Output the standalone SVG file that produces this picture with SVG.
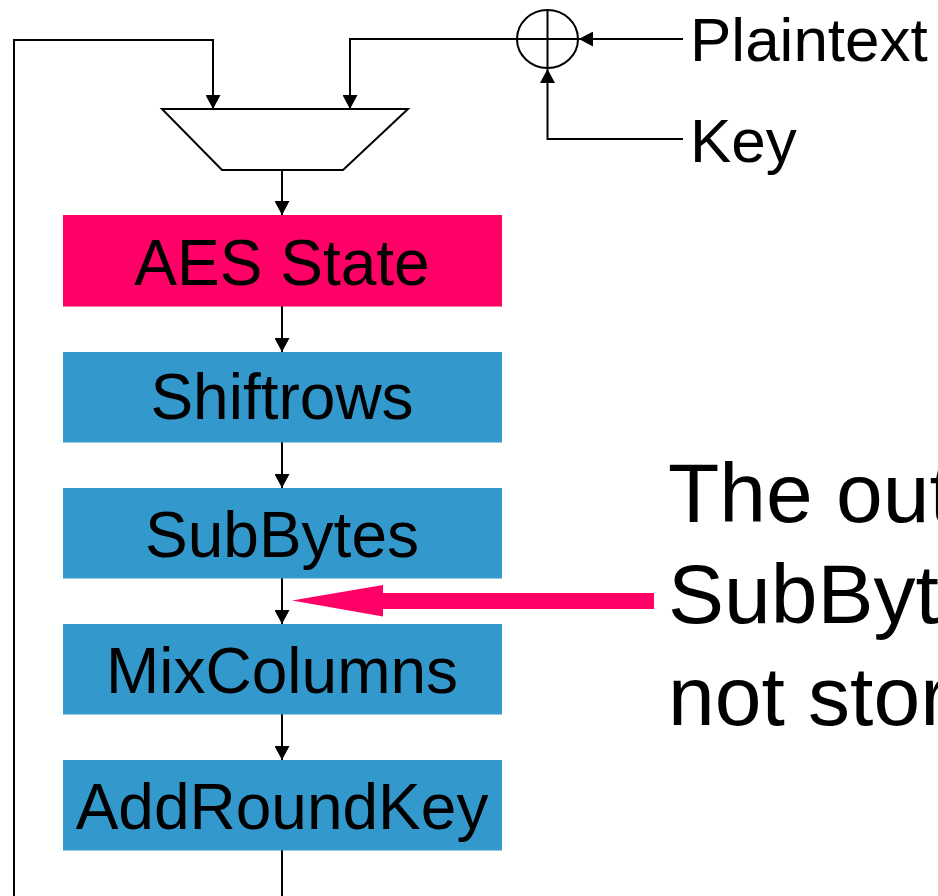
<svg xmlns="http://www.w3.org/2000/svg" width="938" height="896" viewBox="0 0 938 896">
<style>
.ln{fill:none;stroke:#000;stroke-width:2}
.blue{fill:#3399CC}
.pink{fill:#FF0066}
.lbl{font-family:"Liberation Sans",Arial,sans-serif;font-size:64px;fill:#000;text-anchor:middle}
.side{font-family:"Liberation Sans",Arial,sans-serif;font-size:62px;fill:#000}
.big{font-family:"Liberation Sans",Arial,sans-serif;font-size:84px;fill:#000}
</style>
<defs>
<marker id="ah" viewBox="0 0 14 15" refX="14" refY="7.5" markerWidth="14" markerHeight="15" markerUnits="userSpaceOnUse" orient="auto">
<path d="M0,0 L14,7.5 L0,15 z" fill="#000"/>
</marker>
</defs>
<rect width="938" height="896" fill="#fff"/>
<g id="connectors">
<path class="ln" d="M14,896 V40 H213 V109" marker-end="url(#ah)"/>
<path class="ln" d="M517,39 H350 V109" marker-end="url(#ah)"/>
<path class="ln" d="M683,39 H579" marker-end="url(#ah)"/>
<path class="ln" d="M683,139 H547.5 V69" marker-end="url(#ah)"/>
<path class="ln" d="M282,170 V215" marker-end="url(#ah)"/>
<path class="ln" d="M282,306 V352" marker-end="url(#ah)"/>
<path class="ln" d="M282,442 V488" marker-end="url(#ah)"/>
<path class="ln" d="M282,578 V624" marker-end="url(#ah)"/>
<path class="ln" d="M282,714 V760" marker-end="url(#ah)"/>
<path class="ln" d="M282,850 V896"/>
<polygon class="pink" points="292,600.5 383,585 383,593 654,593 654,609 383,609 383,616.5"/>
</g>
<g id="mux">
<polygon class="ln" points="162,109 408,109 343,170 222,170"/>
</g>
<g id="xor">
<ellipse class="ln" cx="547.5" cy="39" rx="30.5" ry="29"/>
<path class="ln" d="M547.5,10 V68 M517,39 H578"/>
</g>
<g id="plaintext"><text class="side" x="690" y="61">Plaintext</text></g>
<g id="key"><text class="side" x="690" y="162">Key</text></g>
<g id="aes-state">
<rect class="pink" x="63" y="215" width="439" height="91.5"/>
<text class="lbl" x="282" y="285">AES State</text>
</g>
<g id="shiftrows">
<rect class="blue" x="63" y="352" width="439" height="90.5"/>
<text class="lbl" x="282" y="419">Shiftrows</text>
</g>
<g id="subbytes">
<rect class="blue" x="63" y="488" width="439" height="90.5"/>
<text class="lbl" x="282" y="557">SubBytes</text>
</g>
<g id="mixcolumns">
<rect class="blue" x="63" y="624" width="439" height="90.5"/>
<text class="lbl" x="282" y="693">MixColumns</text>
</g>
<g id="addroundkey">
<rect class="blue" x="63" y="760" width="439" height="90.5"/>
<text class="lbl" x="282" y="829">AddRoundKey</text>
</g>
<g id="note">
<text class="big" x="668" y="522">The out</text>
<text class="big" x="668" y="623">SubByt</text>
<text class="big" x="668" y="725">not stor</text>
</g>
</svg>
